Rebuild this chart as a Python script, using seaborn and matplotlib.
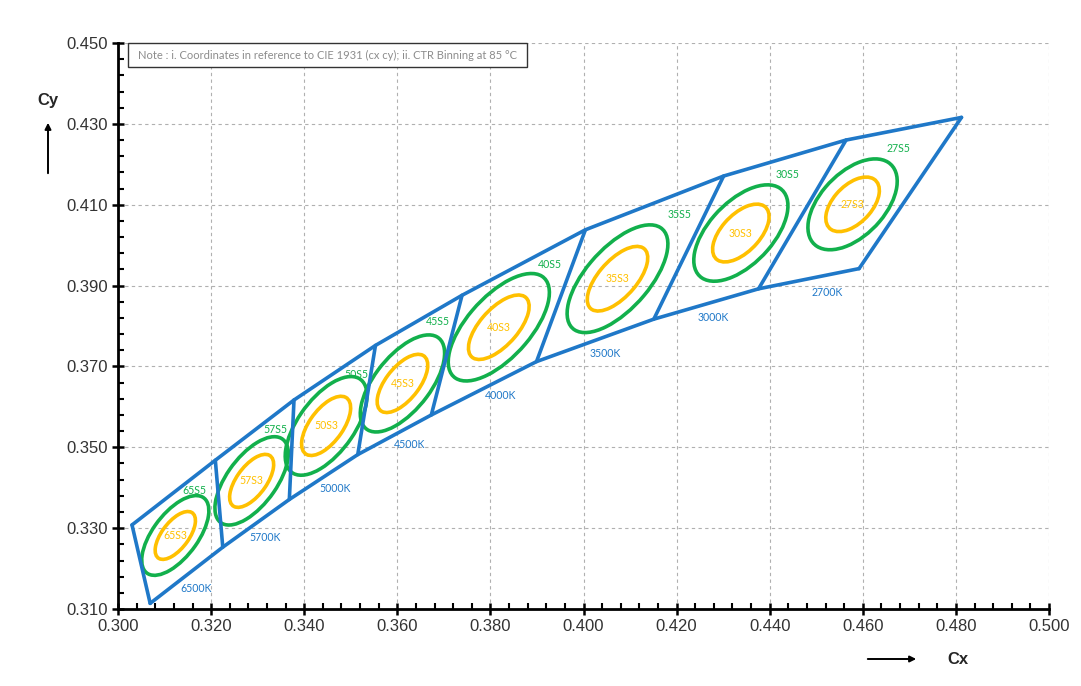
import matplotlib
matplotlib.use("Agg")
import matplotlib.pyplot as plt
from matplotlib.patches import Ellipse, Rectangle, FancyArrowPatch
from matplotlib.ticker import MultipleLocator, FormatStrFormatter
import numpy as np
import pandas as pd
import seaborn as sns

# ---------------- data ----------------
cct_labels = ["6500K", "5700K", "5000K", "4500K", "4000K", "3500K", "3000K", "2700K"]
codes = ["65", "57", "50", "45", "40", "35", "30", "27"]

# quadrangle boundary corners (CIE 1931 x, y)
top_x = [0.3030, 0.3209, 0.3378, 0.3553, 0.3739, 0.4004, 0.4301, 0.4564, 0.4812]
top_y = [0.3308, 0.3468, 0.3617, 0.3752, 0.3876, 0.4038, 0.4171, 0.4260, 0.4316]
bot_x = [0.3069, 0.3225, 0.3368, 0.3515, 0.3673, 0.3899, 0.4151, 0.4376, 0.4592]
bot_y = [0.3114, 0.3253, 0.3371, 0.3482, 0.3580, 0.3712, 0.3817, 0.3892, 0.3942]

# ellipse centres and 1-step semi axes / angle
ell_cx = [0.3123, 0.3287, 0.3447, 0.3611, 0.3818, 0.4073, 0.4338, 0.4578]
ell_cy = [0.3282, 0.3417, 0.3553, 0.3658, 0.3797, 0.3917, 0.4030, 0.4101]
ell_a = [0.00223, 0.00246, 0.00274, 0.00274, 0.00313, 0.00313, 0.00278, 0.00258]
ell_b = [0.00100, 0.00110, 0.00124, 0.00124, 0.00141, 0.00141, 0.00143, 0.00144]
ell_theta = [58.57, 59.09, 59.37, 57.28, 53.72, 54.00, 53.13, 53.70]

# label positions
cct_lx = [0.3168, 0.3316, 0.3466, 0.3627, 0.3821, 0.4046, 0.4278, 0.4523]
cct_ly = [0.3152, 0.3278, 0.3399, 0.3506, 0.3629, 0.3731, 0.3822, 0.3884]
s5_lx = [0.3165, 0.3339, 0.3513, 0.3687, 0.3928, 0.4207, 0.4439, 0.4676]
s5_ly = [0.3394, 0.3543, 0.3681, 0.3810, 0.3951, 0.4075, 0.4176, 0.4238]

x_ticks = [0.300, 0.320, 0.340, 0.360, 0.380, 0.400, 0.420, 0.440, 0.460, 0.480, 0.500]
y_ticks = [0.310, 0.330, 0.350, 0.370, 0.390, 0.410, 0.430, 0.450]

note = "Note : i. Coordinates in reference to CIE 1931 (cx cy); ii. CTR Binning at 85 \u00b0C"

BLUE = "#1f78c8"
GREEN = "#12b04c"
YELLOW = "#ffc000"

# ---------------- figure ----------------
sns.set_theme(style="white")
plt.rcParams["font.family"] = ["Liberation Sans", "DejaVu Sans"]

fig = plt.figure(figsize=(10.81, 6.86), dpi=100)
ax = fig.add_axes([0.1092, 0.1122, 0.8612, 0.8251])

rows = []
for i in range(len(top_x)):
    rows.append(("top", top_x[i], top_y[i]))
for i in range(len(bot_x)):
    rows.append(("bot", bot_x[i], bot_y[i]))
for i in range(len(top_x)):
    rows.append((f"d{i}", top_x[i], top_y[i]))
    rows.append((f"d{i}", bot_x[i], bot_y[i]))
df = pd.DataFrame(rows, columns=["seg", "x", "y"])

sns.lineplot(data=df, x="x", y="y", units="seg", estimator=None, sort=False,
             color=BLUE, lw=2.6, ax=ax, zorder=4, legend=False)

for i in range(len(ell_cx)):
    for steps, col in ((5, GREEN), (3, YELLOW)):
        e = Ellipse((ell_cx[i], ell_cy[i]), width=2 * ell_a[i] * steps,
                    height=2 * ell_b[i] * steps, angle=ell_theta[i],
                    fill=False, edgecolor=col, lw=2.6, zorder=3)
        ax.add_patch(e)

lab_font = dict(family=["Lato", "DejaVu Sans"], fontsize=7.6)
for i in range(len(cct_labels)):
    ax.text(cct_lx[i], cct_ly[i], cct_labels[i], color=BLUE, ha="center",
            va="center", zorder=5, **lab_font)
    ax.text(s5_lx[i], s5_ly[i], codes[i] + "S5", color=GREEN, ha="center",
            va="center", zorder=5, **lab_font)
    ax.text(ell_cx[i], ell_cy[i], codes[i] + "S3", color=YELLOW, ha="center",
            va="center", zorder=5, **lab_font)

ax.set_xlim(x_ticks[0], x_ticks[-1])
ax.set_ylim(y_ticks[0], y_ticks[-1])
ax.set_xticks(x_ticks)
ax.set_yticks(y_ticks)
ax.xaxis.set_minor_locator(MultipleLocator(0.004))
ax.yaxis.set_minor_locator(MultipleLocator(0.004, offset=0.002))
ax.xaxis.set_major_formatter(FormatStrFormatter("%.3f"))
ax.yaxis.set_major_formatter(FormatStrFormatter("%.3f"))
ax.set_xlabel("")
ax.set_ylabel("")

ax.grid(True, which="major", color="#b0b0b0", linestyle=(0, (3, 3)), lw=0.8)
ax.set_axisbelow(True)
for s in ("top", "right"):
    ax.spines[s].set_visible(False)
for s in ("left", "bottom"):
    ax.spines[s].set_color("black")
    ax.spines[s].set_linewidth(2.0)

ax.tick_params(which="major", direction="inout", length=9, width=1.8,
               color="black", labelsize=12, labelcolor="#333333",
               bottom=True, left=True, pad=3)
ax.tick_params(which="minor", direction="in", length=4, width=1.5,
               color="black", bottom=True, left=True)

# note box
ax.add_patch(Rectangle((0.0107, 0.957), 0.4285, 0.043, transform=ax.transAxes,
                       fill=True, facecolor="white", edgecolor="#333333",
                       lw=1.0, zorder=6, clip_on=False))
ax.text(0.0107 + 0.4285 / 2, 0.9785, note, transform=ax.transAxes,
        ha="center", va="center", color="#8c8c8c", zorder=7,
        family=["Lato", "DejaVu Sans"], fontsize=8.0)

# axis titles with arrows
fig.text(48 / 1081, 1 - 100 / 686, "Cy", ha="center", va="center",
         fontsize=12, fontweight="bold")
fig.add_artist(FancyArrowPatch(
    (48 / 1081, 1 - 176 / 686), (48 / 1081, 1 - 120 / 686),
    transform=fig.transFigure, arrowstyle="-|>", mutation_scale=9,
    color="black", lw=1.4))
fig.text(958 / 1081, 1 - 659 / 686, "Cx", ha="center", va="center",
         fontsize=12, fontweight="bold")
fig.add_artist(FancyArrowPatch(
    (865 / 1081, 1 - 659 / 686), (919 / 1081, 1 - 659 / 686),
    transform=fig.transFigure, arrowstyle="-|>", mutation_scale=9,
    color="black", lw=1.4))

fig.savefig("out.png", dpi=100, facecolor="white")
